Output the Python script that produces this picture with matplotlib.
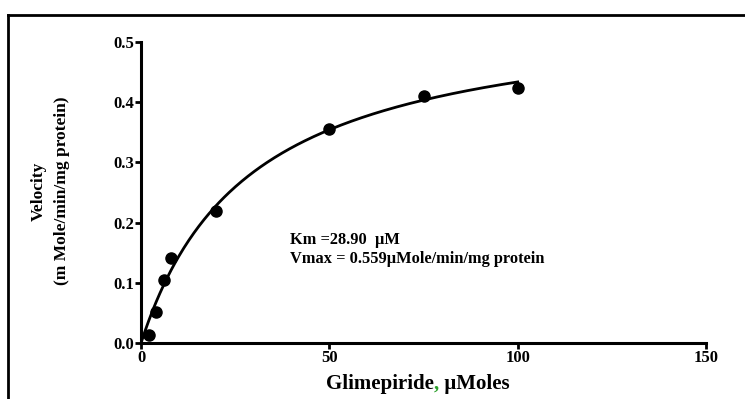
import numpy as np
import matplotlib
matplotlib.use("Agg")
import matplotlib.pyplot as plt
from matplotlib.lines import Line2D

conc = [2, 4, 6, 8, 20, 50, 75, 100]
velocity = [0.013, 0.052, 0.105, 0.141, 0.219, 0.355, 0.410, 0.423]
Km = 28.90
Vmax = 0.559
xticks = [0, 50, 100, 150]
yticks = [0.0, 0.1, 0.2, 0.3, 0.4, 0.5]

plt.rcParams['font.family'] = ['Liberation Serif', 'DejaVu Serif']
plt.rcParams['font.weight'] = 'bold'

fig = plt.figure(figsize=(7.45, 3.99), dpi=100)
ax = fig.add_axes([0.1893, 0.1404, 0.7584, 0.7543])

xs = np.linspace(0, 100, 300)
ax.plot(xs, Vmax * xs / (Km + xs), color='black', lw=2)
ax.plot(conc, velocity, 'o', color='black', ms=8)

ax.set_xlim(0, 150)
ax.set_ylim(0, 0.5)
ax.set_xticks(xticks)
ax.set_xticklabels([str(t) for t in xticks])
ax.set_yticks(yticks)
ax.set_yticklabels([f"{t:.1f}" for t in yticks])
for s in ['top', 'right']:
    ax.spines[s].set_visible(False)
for s in ['left', 'bottom']:
    ax.spines[s].set_linewidth(2.2)
ax.tick_params(width=2, length=4, labelsize=12, pad=1)
for lab in ax.get_xticklabels() + ax.get_yticklabels():
    lab.set_fontweight('bold')

fig.text(50/745, 1 - 191/399, "Velocity\n(m Mole/min/mg protein)", rotation=90,
         ha='center', va='center', fontsize=12.5, fontweight='bold', linespacing=1.6,
         multialignment='center')

# xlabel with green comma
xl_fs = 15
y_lab = 1 - 384/399
r = fig.canvas.get_renderer()
def width(s):
    t = fig.text(0, 0, s, fontsize=xl_fs, fontweight='bold')
    w = t.get_window_extent(r).width
    t.remove()
    return w
wfull = width("Glimepiride, µMoles")
w1 = width("Glimepiride")
w2 = width("Glimepiride,")
start = 418 - wfull / 2
fig.text(start/745, y_lab, "Glimepiride", ha='left', va='center',
         fontsize=xl_fs, fontweight='bold', color='black')
fig.text((start + w1)/745, y_lab, ",", ha='left', va='center',
         fontsize=xl_fs, fontweight='bold', color='#2ca02c')
fig.text((start + w2)/745, y_lab, " µMoles", ha='left', va='center',
         fontsize=xl_fs, fontweight='bold', color='black')

ax.text(39.5, 0.155, "Km =28.90  µM\nVmax = 0.559µMole/min/mg protein",
        fontsize=11.8, fontweight='bold', va='center', ha='left', linespacing=1.3)

fig.add_artist(Line2D([8/745, 1], [1 - 15/399, 1 - 15/399], color='black', lw=2, transform=fig.transFigure))
fig.add_artist(Line2D([8/745, 8/745], [0, 1 - 15/399], color='black', lw=2, transform=fig.transFigure))

fig.savefig("out.png", dpi=100)
